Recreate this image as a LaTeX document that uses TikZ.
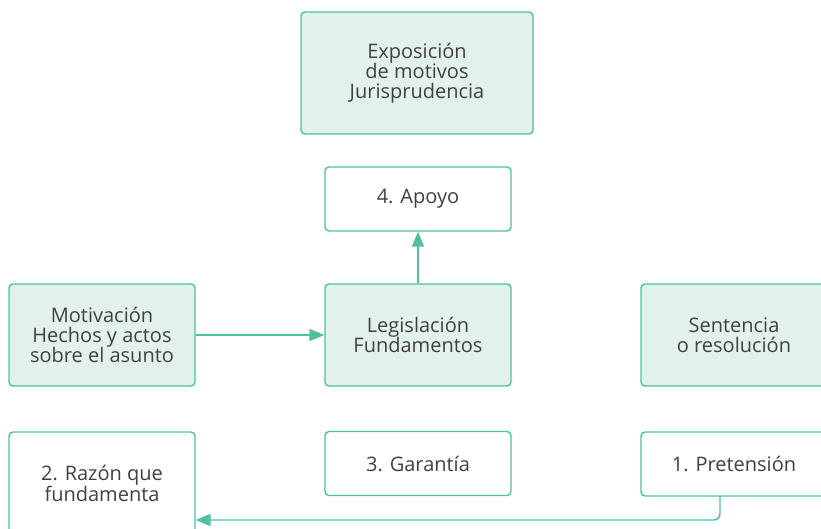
\documentclass[tikz,border=0pt]{standalone}
\usepackage{fontspec}
\setmainfont{Open Sans}
\usetikzlibrary{arrows.meta}
\definecolor{boxgreen}{HTML}{4DC09F}
\definecolor{boxfill}{HTML}{E3F1EC}
\definecolor{textgrey}{HTML}{404040}
\tikzset{
  box/.style={draw=boxgreen, line width=1.4pt, rounded corners=4pt, align=center,
    text=textgrey, font=\fontsize{20}{20}\selectfont, minimum width=186pt, inner sep=0pt},
  tall/.style={box, minimum height=102pt},
  low/.style={box, minimum height=64pt},
  shaded/.style={fill=boxfill},
  link/.style={boxgreen, line width=1.4pt, -{Triangle[length=15pt,width=12pt]}}
}
\begin{document}
\begin{tikzpicture}[x=1pt,y=-1pt]
  \clip (0,0) rectangle (821,529);
  \node[box, shaded, minimum width=232pt, minimum height=122pt] (expo) at (417,73) {Exposición\\de motivos\\Jurisprudencia};
  \node[low] (apoyo) at (418,199) {4. Apoyo};
  \node[tall, shaded] (motiv) at (102,335) {Motivación\\Hechos y actos\\sobre el asunto};
  \node[tall, shaded] (legis) at (418,335) {Legislación\\Fundamentos};
  \node[tall, shaded] (sent) at (734,335) {Sentencia\\o resolución};
  \node[tall] (razon) at (102,483) {2. Razón que\\fundamenta};
  \node[low] (garant) at (418,463.5) {3. Garantía};
  \node[low] (pret) at (734,464) {1. Pretensión};
  \coordinate (drop) at (720,496);
  \coordinate (turn) at (720,520);
  \draw[link] (motiv) -- (legis);
  \draw[link] (legis) -- (apoyo);
  \draw[link, rounded corners=6pt] (drop) -- (turn) -- (razon.east |- turn);
\end{tikzpicture}
\end{document}
